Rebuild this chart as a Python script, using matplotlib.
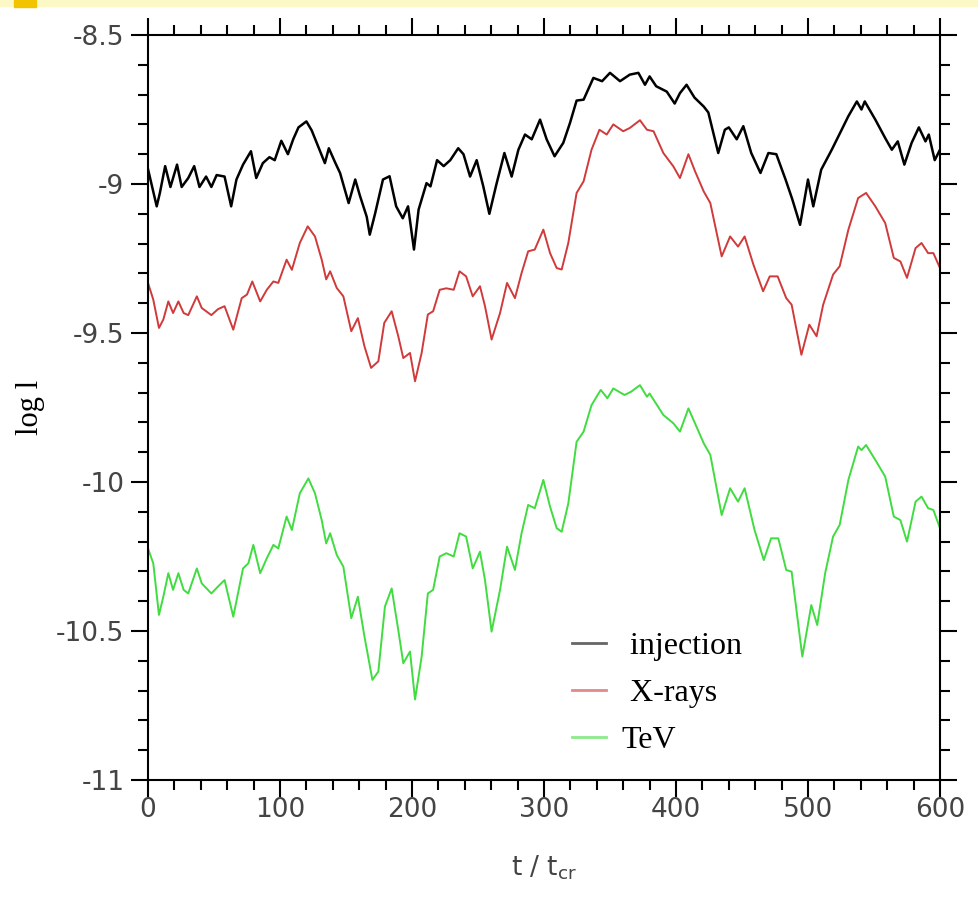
import matplotlib
matplotlib.use("Agg")
import matplotlib.pyplot as plt
from matplotlib.patches import Rectangle
from matplotlib.ticker import MultipleLocator, FuncFormatter

# values (t in units of t_cr, log l)
inj_t = [0, 6.6, 9, 13, 17, 22, 25.5, 30.5, 35, 39,
         44, 48, 52, 58, 63, 67, 72, 78, 82, 87,
         92, 96, 101, 106, 110, 114, 120, 124, 129, 134,
         137, 142, 145.5, 152, 157, 160.6, 165.7, 168, 172, 178,
         183, 188, 193, 197, 201.5, 205, 211, 214, 219, 224,
         229, 235, 239, 244, 249, 254, 258.6, 264, 270, 275.5,
         280.6, 285.6, 290.7, 297, 302, 308, 314.6, 319.7, 324.7, 330,
         337.4, 344, 350, 357.6, 365, 371.5, 376.5, 380, 385, 393,
         399, 403, 408, 414, 421, 424.5, 432, 437, 440, 446,
         451, 457, 464, 470, 476, 483, 488, 494, 500, 504,
         510, 518, 525.5, 530.5, 537, 540.5, 543, 551, 558.5, 563.5,
         568, 573, 578.5, 584, 589, 591.5, 596, 600]
injection = [-8.95, -9.075, -9.03, -8.94, -9.01, -8.935, -9.01, -8.98, -8.94, -9.01,
             -8.975, -9.01, -8.97, -8.975, -9.075, -8.985, -8.935, -8.89, -8.98, -8.93,
             -8.91, -8.92, -8.855, -8.90, -8.85, -8.81, -8.79, -8.82, -8.875, -8.93,
             -8.88, -8.93, -8.963, -9.064, -8.985, -9.04, -9.11, -9.17, -9.10, -8.985,
             -8.974, -9.075, -9.115, -9.075, -9.22, -9.086, -8.997, -9.008, -8.92, -8.94,
             -8.92, -8.88, -8.90, -8.975, -8.92, -9.008, -9.10, -9.00, -8.896, -8.975,
             -8.885, -8.834, -8.85, -8.784, -8.85, -8.907, -8.862, -8.795, -8.72, -8.717,
             -8.644, -8.655, -8.627, -8.655, -8.633, -8.627, -8.667, -8.639, -8.672, -8.69,
             -8.73, -8.695, -8.667, -8.71, -8.74, -8.76, -8.896, -8.818, -8.81, -8.85,
             -8.806, -8.896, -8.963, -8.896, -8.90, -8.985, -9.05, -9.137, -8.985, -9.075,
             -8.952, -8.885, -8.818, -8.773, -8.723, -8.75, -8.723, -8.784, -8.846, -8.885,
             -8.857, -8.935, -8.862, -8.81, -8.857, -8.834, -8.92, -8.885]

xray_t = [0, 4, 8.3, 11.6, 15.4, 19, 23, 27, 30.5, 37,
          40.7, 48, 53, 58, 64.6, 71, 75, 79, 85, 90,
          95, 98.7, 105, 109, 115, 121, 126.5, 131.6, 135, 138,
          143, 148, 154, 159, 164, 169, 174.5, 179, 184.6, 189.6,
          193.4, 198.5, 202.3, 207.3, 212, 216, 221, 226, 231.6, 236,
          241, 246, 251.5, 255.3, 260.3, 266.7, 272, 278, 283, 288,
          293, 299.5, 304.6, 309.6, 313.4, 318.4, 324.7, 330, 336, 342,
          347.5, 352.5, 360, 365, 372.7, 378, 383, 390.4, 398, 403,
          409.4, 414.4, 421, 426, 434.6, 441, 447, 452, 458.6, 466,
          471, 477, 483.5, 487.6, 495, 501, 506.5, 511.5, 519, 524,
          530.6, 538, 544, 551, 558.5, 565, 570, 575, 581.5, 586,
          591, 595, 600]
xrays = [-9.332, -9.388, -9.483, -9.455, -9.394, -9.433, -9.394, -9.433, -9.44, -9.377,
         -9.416, -9.44, -9.42, -9.41, -9.489, -9.383, -9.371, -9.327, -9.394, -9.355,
         -9.327, -9.332, -9.254, -9.288, -9.198, -9.142, -9.176, -9.254, -9.32, -9.293,
         -9.349, -9.377, -9.494, -9.45, -9.545, -9.617, -9.595, -9.466, -9.427, -9.511,
         -9.584, -9.567, -9.662, -9.567, -9.438, -9.427, -9.355, -9.35, -9.355, -9.293,
         -9.31, -9.377, -9.343, -9.41, -9.522, -9.433, -9.332, -9.383, -9.299, -9.226,
         -9.22, -9.153, -9.232, -9.282, -9.287, -9.198, -9.03, -8.991, -8.885, -8.818,
         -8.834, -8.80, -8.823, -8.812, -8.786, -8.818, -8.823, -8.896, -8.941, -8.98,
         -8.90, -8.957, -9.025, -9.064, -9.243, -9.176, -9.21, -9.176, -9.27, -9.36,
         -9.31, -9.31, -9.383, -9.405, -9.573, -9.472, -9.511, -9.405, -9.304, -9.276,
         -9.153, -9.047, -9.03, -9.075, -9.131, -9.248, -9.26, -9.315, -9.215, -9.198,
         -9.232, -9.232, -9.282]

tev_t = [0, 4, 8.3, 11.6, 15.4, 19, 23, 27, 30.5, 37,
         40.7, 48, 53, 58, 64.6, 72, 76, 79.8, 85, 90,
         95, 98.7, 105, 109, 115, 121.5, 126.5, 131.6, 135, 138,
         143, 148, 154, 159, 164, 170, 174.5, 179.5, 184.6, 189.6,
         193.4, 198.5, 202.3, 207.3, 212, 216, 221, 226, 231.6, 236,
         241, 246, 251.5, 255.3, 260.3, 266.7, 272, 278, 283, 288,
         293, 299.5, 304.6, 309.6, 313.4, 318.4, 324.7, 330, 336, 343,
         348, 352.5, 361, 366, 372.7, 378, 380, 390.4, 398, 403,
         409.4, 414.4, 421, 426, 434.6, 441, 447, 452, 459.5, 466.5,
         472, 477.5, 483.5, 487.6, 495.7, 502.5, 507, 513, 519, 524,
         530.6, 538, 540.5, 544, 551, 558.5, 565, 570, 575, 581.5,
         586, 591, 595, 600]
tev = [-10.223, -10.273, -10.446, -10.385, -10.306, -10.362, -10.306, -10.362, -10.374, -10.29,
       -10.34, -10.374, -10.351, -10.329, -10.452, -10.29, -10.273, -10.211, -10.306, -10.256,
       -10.211, -10.223, -10.116, -10.161, -10.038, -9.988, -10.038, -10.128, -10.206, -10.172,
       -10.245, -10.284, -10.457, -10.385, -10.519, -10.664, -10.636, -10.418, -10.357, -10.497,
       -10.608, -10.569, -10.73, -10.586, -10.374, -10.362, -10.25, -10.239, -10.25, -10.172,
       -10.183, -10.29, -10.234, -10.329, -10.502, -10.362, -10.217, -10.295, -10.172, -10.077,
       -10.088, -9.993, -10.083, -10.155, -10.167, -10.072, -9.865, -9.831, -9.742, -9.691,
       -9.719, -9.686, -9.708, -9.697, -9.675, -9.714, -9.703, -9.775, -9.803, -9.831,
       -9.753, -9.803, -9.87, -9.909, -10.111, -10.021, -10.066, -10.021, -10.161, -10.262,
       -10.189, -10.189, -10.295, -10.301, -10.586, -10.413, -10.48, -10.306, -10.183, -10.144,
       -9.993, -9.881, -9.893, -9.876, -9.926, -9.982, -10.116, -10.128, -10.2, -10.066,
       -10.049, -10.088, -10.094, -10.155]

labels = [" injection", " X-rays", "TeV"]
colours = ["#000000", "#d03a3a", "#40dc40"]

plt.rcParams["axes.unicode_minus"] = False

sans = ["DejaVu Sans"]
serif = ["Liberation Serif", "DejaVu Serif"]
tick_col = "#444444"

fig = plt.figure(figsize=(9.79, 9.08), dpi=100)
ax = fig.add_axes([148 / 979, 1 - 780 / 908, 792 / 979, 745 / 908])

ax.plot(inj_t, injection, color=colours[0], lw=1.8, label=labels[0])
ax.plot(xray_t, xrays, color=colours[1], lw=1.4, label=labels[1])
ax.plot(tev_t, tev, color=colours[2], lw=1.4, label=labels[2])

ax.set_xlim(0, 600)
ax.set_ylim(-11, -8.5)
ax.xaxis.set_major_locator(MultipleLocator(100))
ax.xaxis.set_minor_locator(MultipleLocator(20))
ax.yaxis.set_major_locator(MultipleLocator(0.5))
ax.yaxis.set_minor_locator(MultipleLocator(0.1))
ax.yaxis.set_major_formatter(FuncFormatter(lambda v, p: "%g" % v))

for s in ax.spines.values():
    s.set_linewidth(1.5)
ax.tick_params(which="both", direction="out", top=True, right=True, width=1.5)
ax.tick_params(which="major", length=12, pad=5, labelsize=19, labelcolor=tick_col)
ax.tick_params(which="minor", length=7)
ax.tick_params(axis="x", which="major", pad=0)
for lab in ax.get_xticklabels() + ax.get_yticklabels():
    lab.set_family(sans)

ax.set_xlabel(r"t / t$_\mathregular{cr}$", family=sans, fontsize=19, color=tick_col, labelpad=22)
ax.set_ylabel("log l", family=serif, fontsize=22, labelpad=8)

leg = ax.legend(loc="upper left", bbox_to_anchor=(572 / 979, 1 - 632 / 908),
                bbox_transform=fig.transFigure, frameon=False, borderpad=0, borderaxespad=0,
                prop={"family": serif, "size": 23}, handlelength=1.05, handletextpad=0.5,
                labelspacing=0.55)
for h in leg.legend_handles:
    h.set_alpha(0.6)
    h.set_linewidth(2.0)

# yellow strip along the top edge of the screenshot
fig.add_artist(Rectangle((0, 1 - 6 / 908), 1, 6 / 908, transform=fig.transFigure,
                         color="#fdf9c6", zorder=0))
fig.add_artist(Rectangle((14 / 979, 1 - 7 / 908), 22 / 979, 7 / 908, transform=fig.transFigure,
                         color="#f2c400", zorder=0))

fig.savefig("out.png", dpi=100)
